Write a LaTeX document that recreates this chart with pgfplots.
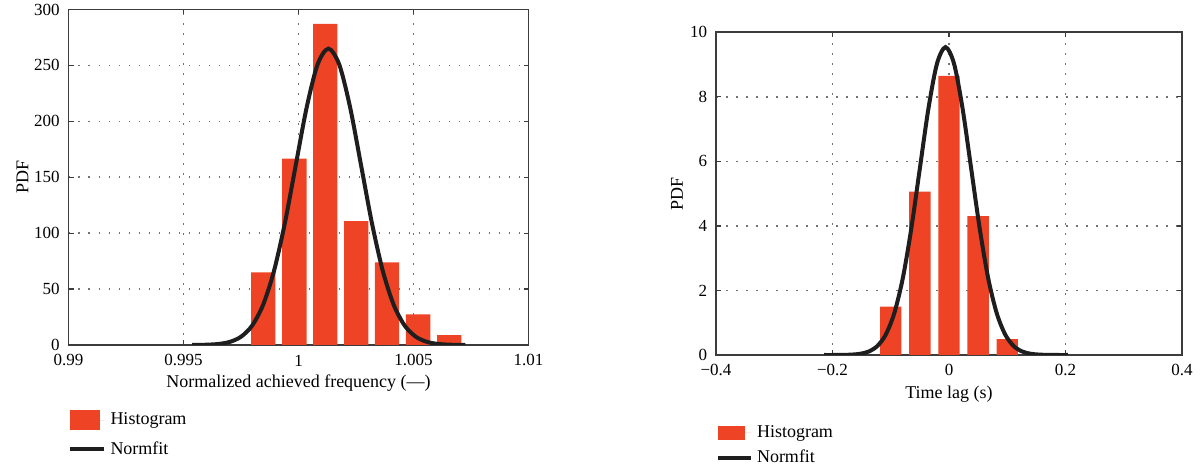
\documentclass[border=0pt]{standalone}
\usepackage{pgfplots}
\pgfplotsset{compat=1.18}
\usepackage{fontspec}
\setmainfont{Liberation Serif}
\definecolor{barred}{RGB}{238,67,37}
\definecolor{curveblk}{RGB}{30,30,30}
\definecolor{framegray}{RGB}{60,60,60}

\pgfplotsset{
 pdfstyle/.style={
  scale only axis,
  axis line style={framegray, line width=0.8pt},
  grid=major,
  major grid style={black!55, line width=0.75pt, dash pattern=on 0.75pt off 4.25pt},
  tick style={framegray, line width=0.6pt},
  major tick length=2.5pt,
  tick align=inside,
  xticklabel style={font=\fontsize{8.5}{10}\selectfont, anchor=center, inner sep=0pt, yshift=-7.7pt},
  yticklabel style={font=\fontsize{8.5}{10}\selectfont, anchor=east, inner sep=0pt, xshift=-4.2pt},
  label style={font=\fontsize{9}{11}\selectfont},
  ylabel={PDF},
  legend style={draw=none, fill=none, font=\fontsize{9}{11}\selectfont, anchor=north west,
    cells={anchor=west}, inner sep=0pt, outer sep=0pt},
  legend cell align=left,
 },
}

\begin{document}
\begin{tikzpicture}
\path[use as bounding box] (0,0) rectangle (600pt,232.5pt);

% ---------- left panel ----------
\begin{axis}[pdfstyle,
  at={(34.25pt,60pt)}, anchor=south west,
  width=230pt, height=167.75pt,
  xmin=0.99, xmax=1.01, ymin=0, ymax=300,
  xtick={0.99,0.995,1,1.005,1.01},
  xticklabels={0.99,0.995,1,1.005,1.01},
  ytick={0,50,100,150,200,250,300},
  yticklabels={0,50,100,150,200,250,300},
  xlabel={Normalized achieved frequency (—)},
  xlabel style={at={(axis description cs:0.5,0)}, anchor=center, yshift=-19pt},
  ylabel style={at={(axis description cs:-0.1,0.5)}, anchor=center},
  legend style={at={(axis description cs:0,-0.19)}, row sep=3pt},
]
\addplot[ybar, bar width=12.15pt, fill=barred, draw=none,
  legend image code/.code={\fill[barred] (0pt,-5pt) rectangle (15pt,5pt); \path (0pt,0pt) -- (17pt,0pt);}]
  coordinates {(0.99847,64.9) (0.99982,166.7) (1.00116,287.2) (1.00251,110.7)
               (1.00385,73.8) (1.00520,27.4) (1.00655,8.9)};
\addlegendentry{Histogram}
\addplot[curveblk, line width=2pt, smooth,
  legend image code/.code={\draw[curveblk,line width=2pt] (0pt,0pt) -- (15pt,0pt); \path (0pt,0pt) -- (17pt,0pt);}]
  coordinates {(0.99538,0.04) (0.99562,0.09) (0.996093,0.32) (0.996567,1.02)
    (0.99704,2.94) (0.997513,7.57) (0.997987,17.42) (0.99846,35.87)
    (0.998933,66.08) (0.999407,108.94) (0.99988,160.73) (1.000353,212.2)
    (1.000827,250.68) (1.0013,265) (1.001773,250.68) (1.002247,212.2)
    (1.00272,160.73) (1.003193,108.94) (1.003667,66.08) (1.00414,35.87)
    (1.004613,17.42) (1.005087,7.57) (1.00556,2.94) (1.006033,1.02)
    (1.006507,0.32) (1.00698,0.09) (1.00725,0.04)};
\addlegendentry{Normfit}
\end{axis}

% ---------- right panel ----------
\begin{axis}[pdfstyle,
  at={(358pt,55pt)}, anchor=south west,
  width=233pt, height=161.35pt,
  xmin=-0.4, xmax=0.4, ymin=0, ymax=10,
  xtick={-0.4,-0.2,0,0.2,0.4},
  xticklabels={−0.4,−0.2,0,0.2,0.4},
  ytick={0,2,4,6,8,10},
  yticklabels={0,2,4,6,8,10},
  xlabel={Time lag (s)},
  xlabel style={at={(axis description cs:0.5,0)}, anchor=center, yshift=-19.5pt},
  ylabel style={at={(axis description cs:-0.0837,0.5)}, anchor=center},
  legend style={at={(axis description cs:0,-0.2057)}, row sep=1pt},
]
\addplot[ybar, bar width=10.65pt, fill=barred, draw=none,
  legend image code/.code={\fill[barred] (0pt,-3.5pt) rectangle (13.5pt,3.5pt); \path (0pt,0pt) -- (16.5pt,0pt);}]
  coordinates {(-0.1,1.50) (-0.05,5.06) (0,8.65) (0.05,4.30) (0.1,0.49)};
\addlegendentry{Histogram}
\addplot[curveblk, line width=2pt, smooth,
  legend image code/.code={\draw[curveblk,line width=2pt] (0pt,0pt) -- (14pt,0pt); \path (0pt,0pt) -- (16.5pt,0pt);}]
  coordinates {(-0.2146,0) (-0.1993,0) (-0.182,0.0032) (-0.1673,0.0115)
    (-0.1527,0.0368) (-0.138,0.106) (-0.1233,0.273) (-0.1087,0.627)
    (-0.094,1.291) (-0.0793,2.379) (-0.0647,3.922) (-0.050,5.786)
    (-0.0353,7.639) (-0.0207,9.024) (-0.006,9.54) (0.0087,9.024)
    (0.0233,7.639) (0.038,5.786) (0.0527,3.922) (0.0673,2.379)
    (0.082,1.291) (0.0967,0.627) (0.1113,0.273) (0.126,0.106)
    (0.1407,0.0368) (0.1553,0.0115) (0.170,0.0032) (0.1873,0) (0.204,0)};
\addlegendentry{Normfit}
\end{axis}
\end{tikzpicture}
\end{document}
